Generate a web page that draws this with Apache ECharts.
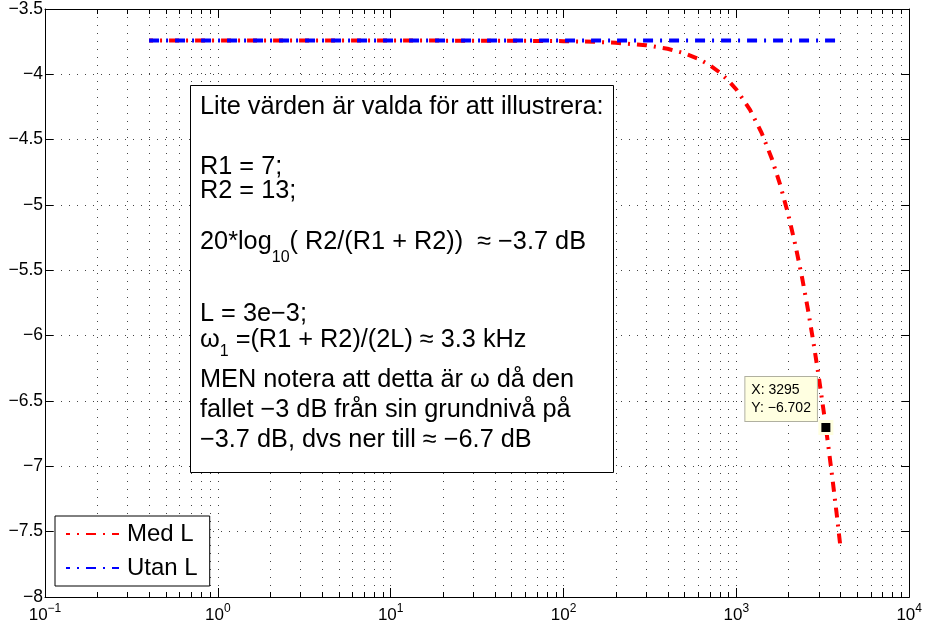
<!DOCTYPE html>
<html><head><meta charset="utf-8">
<script src="https://cdn.jsdelivr.net/npm/echarts@6/dist/echarts.min.js"></script>
<style>html,body{margin:0;padding:0;background:#fff}#c{width:925px;height:635px}</style>
</head><body><div id="c"></div>
<script>
// ---- data ----
const freqMed = [0.4, 1, 2, 5, 10, 20, 50, 100, 150, 200, 300, 400, 500, 600, 700, 800, 900, 1000, 1200, 1400, 1600, 1800, 2000, 2200, 2400, 2600, 2800, 3000, 3200, 3295, 3400, 3600, 3800, 4000];
const medL = [-3.742, -3.742, -3.742, -3.742, -3.742, -3.742, -3.743, -3.746, -3.751, -3.758, -3.777, -3.804, -3.839, -3.880, -3.929, -3.985, -4.048, -4.116, -4.272, -4.448, -4.642, -4.853, -5.077, -5.313, -5.556, -5.806, -6.061, -6.319, -6.579, -6.702, -6.839, -7.099, -7.358, -7.616];
const freqUtan = [0.4, 4000];
const utanL = [-3.742, -3.742];
const seriesNames = ['Med L', 'Utan L'];
const tipX = 3295;
const tipY = -6.702;
const xMin = 0.1, xMax = 10000;
const yMin = -8, yMax = -3.5, yStep = 0.5;
const decadeStarts = [0.1, 1, 10, 100, 1000];
const minorMult = [2, 3, 4, 5, 6, 7, 8, 9];
const annotationPlain = [
  ['Lite värden är valda för att illustrera:', 107],
  ['R1 = 7;', 167],
  ['R2 = 13;', 191],
  ['L = 3e−3;', 314],
  ['MEN notera att detta är ω då den', 380],
  ['fallet −3 dB från sin grundnivå på', 410],
  ['−3.7 dB, dvs ner till ≈ −6.7 dB', 440]
];
const annotationSub = [
  ['20*log', '10', '( R2/(R1 + R2))  ≈ −3.7 dB', 242, 48],
  ['ω', '1', ' =(R1 + R2)/(2L) ≈ 3.3 kHz', 340, 40]
];

const FONT = "'Liberation Sans', Arial, Helvetica, sans-serif";
const minorTicks = [];
decadeStarts.forEach(d => minorMult.forEach(m => minorTicks.push([+(d * m).toPrecision(3), yMin])));

const chart = echarts.init(document.getElementById('c'), null, {renderer: 'canvas'});

const gridDash = [1, 7];
const gridColor = '#444';

function minorRender(params, api) {
  const x = api.value(0);
  const pB = api.coord([x, yMin]);
  const pT = api.coord([x, yMax]);
  const px = Math.round(pB[0]) + 0.5;
  return {
    type: 'group',
    children: [
      {type: 'line', shape: {x1: px, y1: pT[1], x2: px, y2: pB[1]}, style: {stroke: gridColor, lineWidth: 1, lineDash: gridDash}},
      {type: 'line', shape: {x1: px, y1: pB[1], x2: px, y2: pB[1] - 5}, style: {stroke: '#000', lineWidth: 1}},
      {type: 'line', shape: {x1: px, y1: pT[1], x2: px, y2: pT[1] + 5}, style: {stroke: '#000', lineWidth: 1}}
    ]
  };
}

const graphics = [
  {type: 'rect', z: 100, shape: {x: 190.5, y: 85.5, width: 423, height: 387}, style: {fill: '#fff', stroke: '#000', lineWidth: 1}}
];
annotationPlain.forEach(([t, y]) => graphics.push({
  type: 'text', z: 101, x: 200, y: y,
  style: {text: t, fontSize: 25.3, fontFamily: FONT, fill: '#000', align: 'left', verticalAlign: 'middle'}
}));
annotationSub.forEach(([a, s, b, y, lh]) => graphics.push({
  type: 'text', z: 101, x: 200, y: y,
  style: {
    text: '{m|' + a + '}{s|' + s + '}{m|' + b + '}',
    align: 'left', verticalAlign: 'middle', fill: '#000',
    rich: {
      m: {fontSize: 25.3, fontFamily: FONT, lineHeight: lh, verticalAlign: 'middle', fill: '#000'},
      s: {fontSize: 16, fontFamily: FONT, lineHeight: 14, verticalAlign: 'bottom', fill: '#000'}
    }
  }
}));

const option = {
  animation: false,
  backgroundColor: '#fff',
  grid: {left: 45, right: 14, top: 9, bottom: 38, containLabel: false},
  xAxis: [
    {
      type: 'log', logBase: 10, min: xMin, max: xMax, position: 'bottom',
      axisLine: {show: true, onZero: false, lineStyle: {color: '#000', width: 1}},
      axisTick: {show: true, inside: true, length: 9, lineStyle: {color: '#000'}},
      splitLine: {show: true, lineStyle: {color: gridColor, width: 1, type: gridDash}},
      minorTick: {show: false}, minorSplitLine: {show: false},
      axisLabel: {
        show: true, margin: 6, showMinLabel: true, showMaxLabel: true,
        formatter: v => '{b|10}{s|' + String(Math.round(Math.log10(v))).replace('-', '−') + '}',
        rich: {
          b: {fontSize: 17, lineHeight: 24, fontFamily: FONT, color: '#000'},
          s: {fontSize: 12, lineHeight: 10, verticalAlign: 'top', fontFamily: FONT, color: '#000'}
        }
      }
    },
    {
      type: 'log', logBase: 10, min: xMin, max: xMax, position: 'top',
      axisLine: {show: true, onZero: false, lineStyle: {color: '#000', width: 1}},
      axisTick: {show: true, inside: true, length: 9, lineStyle: {color: '#000'}},
      splitLine: {show: false}, axisLabel: {show: false}
    }
  ],
  yAxis: [
    {
      type: 'value', min: yMin, max: yMax, interval: yStep, position: 'left',
      axisLine: {show: true, onZero: false, lineStyle: {color: '#000', width: 1}},
      axisTick: {show: true, inside: true, length: 8, lineStyle: {color: '#000'}},
      splitLine: {show: true, lineStyle: {color: gridColor, width: 1, type: gridDash}},
      axisLabel: {show: true, margin: 2, fontSize: 17.5, fontFamily: FONT, color: '#000',
        formatter: v => String(v).replace('-', '−')}
    },
    {
      type: 'value', min: yMin, max: yMax, interval: yStep, position: 'right',
      axisLine: {show: true, onZero: false, lineStyle: {color: '#000', width: 1}},
      axisTick: {show: true, inside: true, length: 8, lineStyle: {color: '#000'}},
      splitLine: {show: false}, axisLabel: {show: false}
    }
  ],
  legend: {
    data: seriesNames, orient: 'vertical', left: 55, top: 516,
    padding: [6, 12, 6, 10], itemGap: 10, itemWidth: 53, itemHeight: 14,
    backgroundColor: '#fff', borderColor: '#000', borderWidth: 1, borderRadius: 0,
    textStyle: {fontSize: 24, fontFamily: FONT, color: '#000', padding: [0, 0, 0, 3]},
    itemStyle: {opacity: 0},
    z: 50
  },
  graphic: graphics,
  series: [
    {
      type: 'custom', name: 'minor', silent: true, z: 1, clip: false,
      renderItem: minorRender, encode: {x: 0, y: 1}, data: minorTicks
    },
    {
      type: 'line', name: seriesNames[0], z: 5, symbol: 'none', smooth: false,
      lineStyle: {color: '#ff0000', width: 4, type: [10, 7, 2, 7], dashOffset: 6, cap: 'butt'},
      itemStyle: {color: '#ff0000'},
      data: freqMed.map((f, i) => [f, medL[i]])
    },
    {
      type: 'line', name: seriesNames[1], z: 6, symbol: 'none',
      lineStyle: {color: '#0000ff', width: 4, type: [10, 7, 2, 7], cap: 'butt'},
      itemStyle: {color: '#0000ff'},
      data: freqUtan.map((f, i) => [f, utanL[i]])
    },
    {
      type: 'scatter', name: 'datatip', z: 8, silent: true,
      symbol: 'rect', symbolSize: 12,
      itemStyle: {color: '#000', borderColor: '#ffffe0', borderWidth: 3, opacity: 1},
      label: {
        show: true, position: [-73, -43], align: 'left', verticalAlign: 'top',
        formatter: () => 'X: ' + tipX + '\nY: ' + String(tipY).replace('-', '−'),
        fontSize: 14, lineHeight: 18, fontFamily: FONT, color: '#000',
        backgroundColor: '#ffffe1', borderColor: '#b0b0a0', borderWidth: 1,
        padding: [4, 6, 4, 6]
      },
      data: [[tipX, tipY]]
    }
  ]
};
chart.setOption(option);
</script></body></html>
